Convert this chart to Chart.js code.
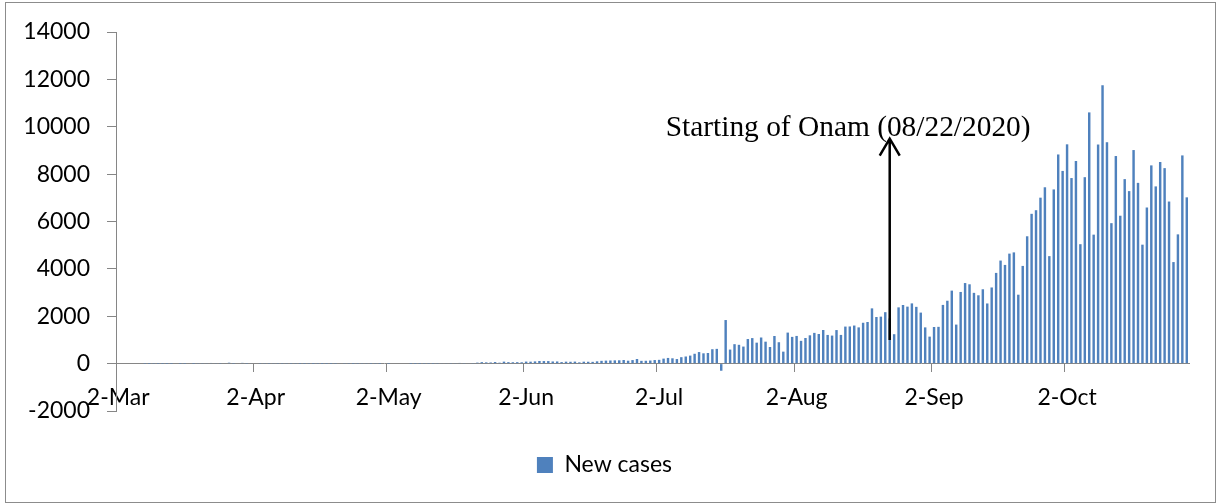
<!DOCTYPE html>
<html>
<head>
<meta charset="utf-8">
<script src="https://cdn.jsdelivr.net/npm/chart.js@4.4.0/dist/chart.umd.min.js"></script>
<style>
  body { margin: 0; background: #fff; }
  #frame { position: absolute; left: 5px; top: 2px; width: 1209px; height: 499px; border: 1px solid #8c8c8c; pointer-events: none; }
  canvas { position: absolute; left: 0; top: 0; }
</style>
</head>
<body>
<canvas id="myChart" width="1218" height="504"></canvas>
<div id="frame"></div>
<script>
// daily new cases, 2 Mar .. 29 Oct 2020
const marCases = [0, 0, 0, 0, 0, 0, 5, 1, 8, 3, 2, 2, 3, 0, 2, 3, 0, 1, 12, 12, 15, 28, 14, 9, 19, 39, 6, 20, 32, 7];
const aprCases = [24, 21, 9, 11, 8, 13, 9, 9, 12, 7, 10, 2, 3, 8, 1, 7, 1, 4, 2, 6, 19, 11, 10, 3, 7, 11, 13, 4, 10, 2];
const mayCases = [0, 2, 0, 0, 0, 0, 1, 1, 2, 7, 7, 5, 10, 26, 16, 11, 14, 29, 12, 24, 12, 42, 62, 53, 49, 67, 40, 84, 62, 58, 61];
const junCases = [57, 86, 82, 94, 111, 108, 107, 91, 91, 65, 83, 78, 85, 54, 82, 79, 75, 97, 118, 127, 133, 138, 141, 152, 123, 150, 195, 118, 121, 131];
const julCases = [151, 160, 211, 240, 225, 193, 272, 301, 339, 416, 488, 435, 449, 608, 623, -300, 1840, 593, 821, 794, 720, 1038, 1078, 885, 1103, 927, 702, 1167, 903, 506, 1310];
const augCases = [1129, 1169, 962, 1083, 1195, 1298, 1251, 1420, 1211, 1184, 1417, 1212, 1564, 1569, 1608, 1530, 1725, 1758, 2333, 1968, 1983, 2172, 1908, 1242, 2375, 2476, 2406, 2543, 2397, 2154, 1530];
const sepCases = [1140, 1547, 1553, 2479, 2655, 3082, 1648, 3026, 3402, 3349, 2988, 2885, 3139, 2540, 3215, 3830, 4351, 4167, 4644, 4696, 2910, 4125, 5376, 6324, 6477, 7006, 7445, 4538, 7354, 8830];
const octCases = [8135, 9258, 7834, 8553, 5042, 7871, 10606, 5445, 9250, 11755, 9347, 5930, 8764, 6244, 7789, 7283, 9016, 7631, 5022, 6591, 8369, 7482, 8511, 8253, 6843, 4287, 5457, 8790, 7020];

const newCases = [].concat(marCases, aprCases, mayCases, junCases, julCases, augCases, sepCases, octCases);

const monthNames = ['Jan', 'Feb', 'Mar', 'Apr', 'May', 'Jun', 'Jul', 'Aug', 'Sep', 'Oct', 'Nov', 'Dec'];
const labels = [];
for (let i = 0; i < newCases.length; i++) {
  const d = new Date(2020, 2, 2 + i);
  labels.push(d.getDate() + '-' + monthNames[d.getMonth()]);
}
const tickLabels = ['2-Mar', '2-Apr', '2-May', '2-Jun', '2-Jul', '2-Aug', '2-Sep', '2-Oct'];
const yTicks = [-2000, 0, 2000, 4000, 6000, 8000, 10000, 12000, 14000];

// annotation
const onamLabel = '23-Aug';
const onamText = 'Starting of Onam (08/22/2020)';
const arrowFrom = 1000;
const arrowTo = 9500;
const textAt = 9600;

const axisGray = '#868686';
const barBlue = '#4f81bd';

const onamNote = {
  id: 'onamNote',
  afterDatasetsDraw(chart) {
    const { ctx, scales: { x, y } } = chart;
    const px = x.getPixelForValue(labels.indexOf(onamLabel));
    const yTop = y.getPixelForValue(arrowTo);
    const yBot = y.getPixelForValue(arrowFrom);
    ctx.save();
    ctx.strokeStyle = '#000';
    ctx.lineWidth = 2.5;
    ctx.beginPath();
    ctx.moveTo(px, yBot);
    ctx.lineTo(px, yTop);
    ctx.moveTo(px - 10, yTop + 17);
    ctx.lineTo(px, yTop);
    ctx.lineTo(px + 10, yTop + 17);
    ctx.stroke();
    ctx.fillStyle = '#000';
    ctx.font = '29.4px "Liberation Serif", "Times New Roman", serif';
    ctx.textAlign = 'left';
    ctx.textBaseline = 'alphabetic';
    ctx.fillText(onamText, px - 224, y.getPixelForValue(textAt));
    ctx.restore();
  }
};

Chart.defaults.font.family = 'Lato, "Open Sans", sans-serif';
Chart.defaults.font.size = 23;
Chart.defaults.color = '#000';

const ctx = document.getElementById('myChart');
const chart = new Chart(ctx, {
  type: 'bar',
  data: {
    labels: labels,
    datasets: [{
      label: 'New cases',
      data: newCases,
      backgroundColor: barBlue,
      borderWidth: 0,
      barPercentage: 0.55,
      categoryPercentage: 1
    }]
  },
  options: {
    responsive: false,
    animation: false,
    devicePixelRatio: 1,
    layout: { padding: { left: 20, right: 29, top: 32, bottom: 17.5 } },
    plugins: {
      legend: {
        position: 'bottom',
        labels: { boxWidth: 16, boxHeight: 16, padding: 42.5, color: '#000' }
      },
      tooltip: { enabled: false }
    },
    scales: {
      x: {
        type: 'category',
        position: { y: 0 },
        offset: true,
        grid: {
          offset: true,
          drawOnChartArea: false,
          tickLength: 8,
          color: (c) => tickLabels.includes(labels[c.index]) ? axisGray : 'rgba(0,0,0,0)'
        },
        border: { display: true, color: axisGray },
        ticks: {
          autoSkip: false,
          maxRotation: 0,
          padding: 12,
          callback: (value, index) => tickLabels.includes(labels[index]) ? labels[index] : ''
        }
      },
      y: {
        min: -2000,
        max: 14000,
        afterFit(scale) { scale.width = 96; },
        afterBuildTicks(scale) { scale.ticks = yTicks.map(v => ({ value: v })); },
        grid: { drawOnChartArea: false, tickLength: 9, color: axisGray },
        border: { display: true, color: axisGray },
        ticks: { padding: 17, callback: (v) => String(v) }
      }
    }
  },
  plugins: [onamNote]
});
</script>
</body>
</html>
